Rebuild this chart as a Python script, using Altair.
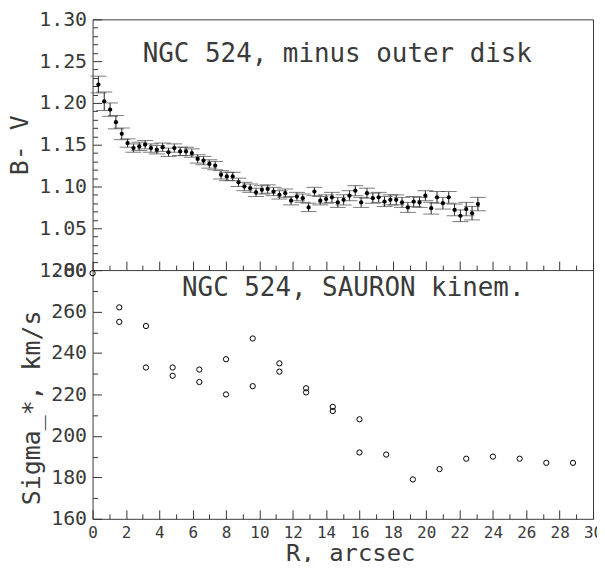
import altair as alt
import pandas as pd

# ---------------- data ----------------
R_BV = [0.35, 0.70, 1.05, 1.40, 1.75, 2.10, 2.45, 2.80, 3.15, 3.50, 3.85, 4.20,
        4.55, 4.90, 5.25, 5.60, 5.95, 6.30, 6.65, 7.00, 7.35, 7.70, 8.05, 8.40,
        8.75, 9.10, 9.45, 9.80, 10.15, 10.50, 10.85, 11.20, 11.55, 11.90, 12.25,
        12.60, 12.95, 13.30, 13.65, 14.00, 14.35, 14.70, 15.05, 15.40, 15.75,
        16.10, 16.45, 16.80, 17.15, 17.50, 17.85, 18.20, 18.55, 18.90, 19.25,
        19.60, 19.95, 20.30, 20.65, 21.00, 21.35, 21.70, 22.05, 22.40, 22.75, 23.10]
BV = [1.222, 1.202, 1.192, 1.177, 1.163, 1.152, 1.146, 1.148, 1.150, 1.146, 1.144,
      1.147, 1.141, 1.146, 1.142, 1.142, 1.140, 1.133, 1.131, 1.127, 1.125, 1.114,
      1.112, 1.112, 1.105, 1.100, 1.098, 1.093, 1.096, 1.097, 1.094, 1.090, 1.092,
      1.083, 1.088, 1.086, 1.075, 1.094, 1.083, 1.085, 1.087, 1.081, 1.084, 1.089,
      1.095, 1.081, 1.092, 1.086, 1.087, 1.082, 1.084, 1.084, 1.081, 1.075, 1.082,
      1.081, 1.089, 1.074, 1.087, 1.080, 1.087, 1.072, 1.065, 1.073, 1.068, 1.079]
BV_ERR = [0.010, 0.011, 0.008, 0.008, 0.007, 0.005, 0.005, 0.005, 0.005, 0.005,
          0.005, 0.005, 0.005, 0.005, 0.005, 0.005, 0.005, 0.005, 0.005, 0.005,
          0.005, 0.005, 0.005, 0.005, 0.005, 0.005, 0.005, 0.005, 0.005, 0.005,
          0.005, 0.005, 0.005, 0.005, 0.005, 0.005, 0.005, 0.005, 0.005, 0.005,
          0.006, 0.006, 0.006, 0.006, 0.006, 0.006, 0.006, 0.006, 0.006, 0.006,
          0.006, 0.006, 0.006, 0.006, 0.006, 0.006, 0.006, 0.007, 0.007, 0.007,
          0.007, 0.007, 0.007, 0.008, 0.008, 0.008]

R_SIG = [0.0, 1.6, 1.6, 3.2, 3.2, 4.8, 4.8, 6.4, 6.4, 8.0, 8.0, 9.6, 9.6, 11.2, 11.2,
         12.8, 12.8, 14.4, 14.4, 16.0, 16.0, 17.6, 19.2, 20.8, 22.4, 24.0, 25.6, 27.2, 28.8]
SIGMA = [278.5, 262, 255, 253, 233, 233, 229, 232, 226, 237, 220, 247, 224, 235, 231,
         223, 221, 214, 212, 208, 192, 191, 179, 184, 189, 190, 189, 187, 187]

X_MAJOR = [0, 2, 4, 6, 8, 10, 12, 14, 16, 18, 20, 22, 24, 26, 28, 30]
X_MINOR = [1, 3, 5, 7, 9, 11, 13, 15, 17, 19, 21, 23, 25, 27, 29]
BV_MAJOR = [1.00, 1.05, 1.10, 1.15, 1.20, 1.25, 1.30]
BV_MINOR = [1.01, 1.02, 1.03, 1.04, 1.06, 1.07, 1.08, 1.09, 1.11, 1.12, 1.13, 1.14,
            1.16, 1.17, 1.18, 1.19, 1.21, 1.22, 1.23, 1.24, 1.26, 1.27, 1.28, 1.29]
SIG_MAJOR = [160, 180, 200, 220, 240, 260, 280]
SIG_MINOR = [170, 190, 210, 230, 250, 270]

TITLE_TOP = "NGC 524, minus outer disk"
TITLE_BOT = "NGC 524, SAURON kinem."

# ---------------- style ----------------
FONT = "DejaVu Sans Mono"
TC = "#3a3a3a"
TICKC = "#333333"
W, H = 503, 502
HT = 252  # split between the two panels

df_top = pd.DataFrame({"R": R_BV, "BV": BV, "err": BV_ERR})
df_top["lo"] = df_top["BV"] - df_top["err"]
df_top["hi"] = df_top["BV"] + df_top["err"]
df_bot = pd.DataFrame({"R": R_SIG, "sigma": SIGMA})

xs = alt.Scale(domain=[0, 30], nice=False, zero=False)
yts = alt.Scale(domain=[1.0, 1.3], range=[HT, 0], nice=False, zero=False)
ybs = alt.Scale(domain=[160, 280], range=[H, HT], nice=False, zero=False)


def tick_axis(orient, offset, values, size, domain=False):
    return alt.Axis(orient=orient, offset=offset, values=values, tickSize=size,
                    ticks=True, labels=False, domain=domain, grid=False,
                    tickColor=TICKC, tickWidth=1, tickOpacity=1,
                    domainColor=TC, domainWidth=1, title=None)


ax_x_labels = alt.Axis(orient="bottom", values=X_MAJOR, ticks=False, domain=False,
                       grid=False, labelFont=FONT, labelFontSize=16, labelColor=TC,
                       labelPadding=6, labelFlush=False, labelOverlap=False,
                       title="R, arcsec", titleFont=FONT, titleFontSize=24,
                       titleFontWeight="normal", titleColor=TC, titleX=259,
                       titleY=23, titleBaseline="top")

ax_yt_labels = alt.Axis(orient="left", values=BV_MAJOR, format=".2f", ticks=False,
                        domain=False, grid=False, labelFont=FONT, labelFontSize=20,
                        labelColor=TC, labelPadding=6, labelFlush=False,
                        labelOverlap=False, title="B- V", titleFont=FONT,
                        titleFontSize=25, titleFontWeight="normal", titleColor=TC,
                        titlePadding=6)

ax_yb_labels = alt.Axis(orient="left", values=SIG_MAJOR, format="d", ticks=False,
                        domain=False, grid=False, labelFont=FONT, labelFontSize=20,
                        labelColor=TC, labelPadding=6, labelFlush=False,
                        labelOverlap=False, title="Sigma_*, km/s", titleFont=FONT,
                        titleFontSize=25, titleFontWeight="normal", titleColor=TC,
                        titlePadding=6, titleY=390)

top_base = alt.Chart(df_top)

err_rule = top_base.mark_rule(color="#222222", strokeWidth=1).encode(
    x=alt.X("R:Q", scale=xs, axis=ax_x_labels),
    y=alt.Y("lo:Q", scale=yts, axis=ax_yt_labels),
    y2="hi:Q",
)
cap_lo = top_base.mark_tick(orient="horizontal", size=16, thickness=1,
                            color="#444444").encode(
    x=alt.X("R:Q", scale=xs, axis=tick_axis("top", -HT, X_MAJOR, 9, domain=True)),
    y=alt.Y("lo:Q", scale=yts, axis=tick_axis("right", -W, BV_MAJOR, 9)),
)
cap_hi = top_base.mark_tick(orient="horizontal", size=16, thickness=1,
                            color="#444444").encode(
    x=alt.X("R:Q", scale=xs, axis=tick_axis("top", -HT, X_MINOR, 5)),
    y=alt.Y("hi:Q", scale=yts, axis=tick_axis("right", -W, BV_MINOR, 5)),
)
dots = top_base.mark_point(shape="circle", filled=True, size=18, color="black",
                           opacity=1).encode(
    x=alt.X("R:Q", scale=xs, axis=tick_axis("top", -H, X_MAJOR, 9)),
    y=alt.Y("BV:Q", scale=yts, axis=None),
)
title_top = alt.Chart(pd.DataFrame({"t": [TITLE_TOP]})).mark_text(
    font=FONT, fontSize=26, color=TC, align="center", baseline="alphabetic"
).encode(text="t:N", x=alt.value(246), y=alt.value(43))

bot_base = alt.Chart(df_bot)
circles = bot_base.mark_point(shape="circle", filled=False, size=28, color="black",
                              strokeWidth=1, opacity=1).encode(
    x=alt.X("R:Q", scale=xs, axis=tick_axis("top", -H, X_MINOR, 5)),
    y=alt.Y("sigma:Q", scale=ybs, axis=ax_yb_labels),
)
sig_major = bot_base.mark_point(opacity=0).encode(
    x=alt.X("R:Q", scale=xs, axis=None),
    y=alt.Y("sigma:Q", scale=ybs, axis=tick_axis("right", -W, SIG_MAJOR, 9)),
)
sig_minor = bot_base.mark_point(opacity=0).encode(
    x=alt.X("R:Q", scale=xs, axis=None),
    y=alt.Y("sigma:Q", scale=ybs, axis=tick_axis("right", -W, SIG_MINOR, 5)),
)
title_bot = alt.Chart(pd.DataFrame({"t": [TITLE_BOT]})).mark_text(
    font=FONT, fontSize=26, color=TC, align="center", baseline="alphabetic"
).encode(text="t:N", x=alt.value(262), y=alt.value(278))

chart = alt.layer(
    err_rule, cap_lo, cap_hi, dots, title_top,
    circles, sig_major, sig_minor, title_bot,
).resolve_scale(
    y="independent"
).resolve_axis(
    x="independent", y="independent"
).properties(
    width=W, height=H,
    autosize=alt.AutoSizeParams(type="none"),
    padding={"left": 85, "top": 10, "right": 4, "bottom": 42},
    background="white",
).configure_view(
    stroke=TC, strokeWidth=1
)

chart.save("out.html", embed_options={"renderer": "svg", "actions": False})
